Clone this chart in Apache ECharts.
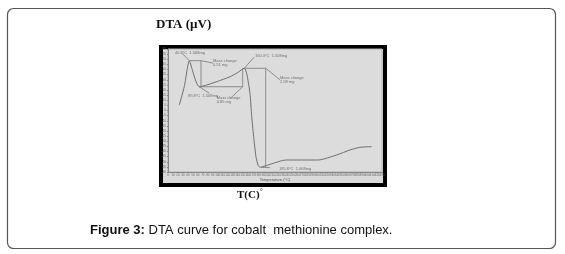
<!DOCTYPE html>
<html>
<head>
<meta charset="utf-8">
<script src="https://cdn.jsdelivr.net/npm/echarts@6/dist/echarts.min.js"></script>
<style>
  html, body { margin: 0; padding: 0; background: #fff; }
  #chart { width: 565px; height: 254px; }
</style>
</head>
<body>
<div id="chart"></div>
<script>
// DTA curve, temperature (C) vs signal (uV)
var tempC = [22.7, 32.7, 42.8, 50.8, 57.7, 62.9, 97.8, 124.6, 140.0, 153.3, 158.1, 164.7, 168.2, 172.8, 176.8, 181.4, 186.2, 194.9, 228.4, 238.5, 302.0, 338.9, 365.6, 385.7, 409.2]
var dtaUV = [5.4, 23.2, 48.6, 36.3, 26.5, 23.2, 28.1, 33.0, 37.0, 41.2, 36.3, 16.8, -6.0, -28.5, -45.1, -54.0, -55.4, -54.1, -49.0, -48.3, -48.3, -43.4, -38.5, -35.9, -35.3]

// marker lines drawn by the instrument software
var markerLines = [
  [[42.8, 48.6], [66.3, 48.6], [66.3, 23.2]],
  [[66.3, 48.6], [90.4, 46.3]],
  [[62.9, 23.2], [150.1, 23.2], [150.1, 41.2]],
  [[150.1, 23.2], [124.6, 11.5]],
  [[153.3, 41.2], [196.3, 41.2], [196.3, -55.4]],
  [[196.3, 41.2], [225.0, 30.0]],
  [[28.0, 56.0], [42.8, 48.6]],
  [[83.0, 16.8], [62.9, 23.2]],
  [[172.8, 51.9], [153.3, 41.2]],
  [[205.0, -55.8], [186.2, -55.4]]
]

var noteX = [14, 90.4, 40, 97.8, 174.8, 225, 223]
var noteY = [56.4, 46.3, 14.1, 10.2, 53.5, 29.8, -57.4]
var noteText = [
  '46.8°C  1.568mg',
  'Mass change\n0.51 mg',
  '89.8°C  1.508mg',
  'Mass change\n0.85 mg',
  '150.3°C  1.508mg',
  'Mass change\n2.08 mg',
  '185.8°C  1.068mg'
]

var chart = echarts.init(document.getElementById('chart'))

var series = [{
  type: 'line',
  data: tempC.map(function (t, i) { return [t, dtaUV[i]] }),
  symbol: 'none',
  smooth: 0.2,
  lineStyle: { color: '#6e6e6e', width: 1 },
  silent: true
}]
markerLines.forEach(function (pts) {
  series.push({
    type: 'line',
    data: pts,
    symbol: 'none',
    lineStyle: { color: '#777', width: 0.8 },
    silent: true
  })
})
series.push({
  type: 'scatter',
  data: noteX.map(function (x, i) { return [x, noteY[i], noteText[i]] }),
  symbolSize: 0,
  label: {
    show: true,
    position: 'right',
    distance: 0,
    fontSize: 4,
    lineHeight: 4,
    color: '#555',
    formatter: function (p) { return p.value[2] }
  },
  silent: true
})

chart.setOption({
  animation: false,
  graphic: [
    {
      type: 'rect',
      shape: { x: 7.5, y: 8.5, width: 548, height: 240, r: 6 },
      style: { fill: '#fff', stroke: '#555', lineWidth: 1.2 },
      z: -10
    },
    {
      type: 'rect',
      shape: { x: 161, y: 47, width: 224, height: 138 },
      style: { fill: '#d9d9d9', stroke: '#000', lineWidth: 4 },
      z: -5
    },
    {
      type: 'text',
      left: 156, top: 18,
      style: { text: 'DTA (µV)', font: 'bold 13px "Liberation Serif"', fill: '#111' }
    },
    {
      type: 'text',
      left: 237, top: 190,
      style: { text: 'T(C)', font: 'bold 11px "Liberation Serif"', fill: '#111' }
    },
    {
      type: 'text',
      left: 260, top: 188,
      style: { text: '°', font: '7px "Liberation Serif"', fill: '#111' }
    },
    {
      type: 'text',
      left: 90, top: 224,
      style: {
        text: '{b|Figure 3:} DTA curve for cobalt  methionine complex.',
        font: '13px "Liberation Sans"',
        fill: '#111',
        rich: { b: { fontWeight: 'bold', fontSize: 13, fontFamily: 'Liberation Sans' } }
      }
    }
  ],
  grid: {
    left: 168, top: 49, right: 183, bottom: 82,
    show: true,
    backgroundColor: '#dcdcdc',
    borderColor: '#b0b0b0',
    borderWidth: 1
  },
  xAxis: {
    type: 'value',
    min: 0, max: 430, interval: 10,
    name: 'Temperature (°C)',
    nameLocation: 'middle',
    nameGap: 6,
    nameTextStyle: { fontSize: 4, color: '#555' },
    axisLine: { onZero: false, lineStyle: { color: '#888', width: 1 } },
    axisTick: { show: true, length: 1, lineStyle: { color: '#888' } },
    axisLabel: { fontSize: 3, margin: 2, color: '#666' },
    splitLine: { show: false }
  },
  yAxis: {
    type: 'value',
    min: -60, max: 60, interval: 5,
    axisLine: { show: true, onZero: false, lineStyle: { color: '#888', width: 1 } },
    axisTick: { show: true, length: 1, lineStyle: { color: '#888' } },
    axisLabel: { fontSize: 3, margin: 2, color: '#666' },
    splitLine: { show: false }
  },
  series: series
})
</script>
</body>
</html>
